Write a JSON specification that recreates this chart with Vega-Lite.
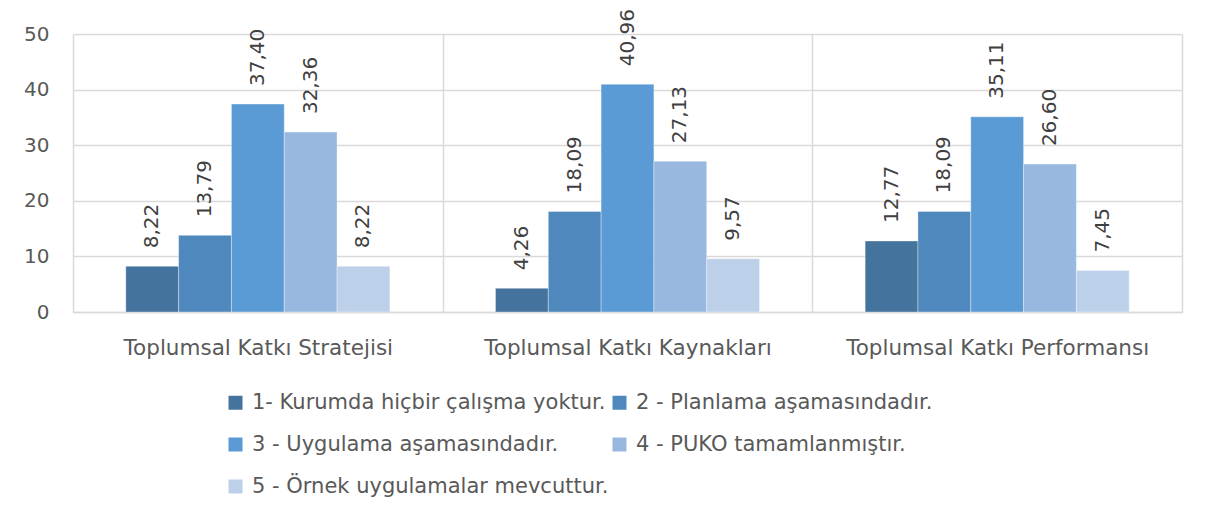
{
  "$schema": "https://vega.github.io/schema/vega-lite/v6.json",
  "width": 1109,
  "height": 278,
  "autosize": {"type": "none"},
  "padding": {"left": 73, "top": 34, "right": 33, "bottom": 215},
  "background": "white",
  "config": {
    "locale": {"number": {"decimal": ",", "thousands": ".", "grouping": [3], "currency": ["", " TL"]}},
    "view": {"stroke": null},
    "font": "DejaVu Sans"
  },
  "data": {
    "values": [
      {"kategori": "Toplumsal Katkı Stratejisi", "seviye": "1- Kurumda hiçbir çalışma yoktur.", "deger": 8.22},
      {"kategori": "Toplumsal Katkı Stratejisi", "seviye": "2 - Planlama aşamasındadır.", "deger": 13.79},
      {"kategori": "Toplumsal Katkı Stratejisi", "seviye": "3 - Uygulama aşamasındadır.", "deger": 37.40},
      {"kategori": "Toplumsal Katkı Stratejisi", "seviye": "4 - PUKO tamamlanmıştır.", "deger": 32.36},
      {"kategori": "Toplumsal Katkı Stratejisi", "seviye": "5 - Örnek uygulamalar mevcuttur.", "deger": 8.22},
      {"kategori": "Toplumsal Katkı Kaynakları", "seviye": "1- Kurumda hiçbir çalışma yoktur.", "deger": 4.26},
      {"kategori": "Toplumsal Katkı Kaynakları", "seviye": "2 - Planlama aşamasındadır.", "deger": 18.09},
      {"kategori": "Toplumsal Katkı Kaynakları", "seviye": "3 - Uygulama aşamasındadır.", "deger": 40.96},
      {"kategori": "Toplumsal Katkı Kaynakları", "seviye": "4 - PUKO tamamlanmıştır.", "deger": 27.13},
      {"kategori": "Toplumsal Katkı Kaynakları", "seviye": "5 - Örnek uygulamalar mevcuttur.", "deger": 9.57},
      {"kategori": "Toplumsal Katkı Performansı", "seviye": "1- Kurumda hiçbir çalışma yoktur.", "deger": 12.77},
      {"kategori": "Toplumsal Katkı Performansı", "seviye": "2 - Planlama aşamasındadır.", "deger": 18.09},
      {"kategori": "Toplumsal Katkı Performansı", "seviye": "3 - Uygulama aşamasındadır.", "deger": 35.11},
      {"kategori": "Toplumsal Katkı Performansı", "seviye": "4 - PUKO tamamlanmıştır.", "deger": 26.60},
      {"kategori": "Toplumsal Katkı Performansı", "seviye": "5 - Örnek uygulamalar mevcuttur.", "deger": 7.45}
    ]
  },
  "encoding": {
    "x": {
      "field": "kategori", "type": "nominal", "sort": null,
      "scale": {"paddingInner": 0, "paddingOuter": 0},
      "axis": {
        "title": null, "labelAngle": 0, "tickBand": "extent", "grid": true,
        "gridColor": "#d9d9d9", "gridWidth": 1.5, "ticks": false,
        "domainColor": "#d9d9d9", "domainWidth": 1.5, "labelLimit": 0,
        "labelFontSize": 21.5, "labelColor": "#595959", "labelPadding": 25
      }
    },
    "xOffset": {
      "field": "seviye", "type": "nominal", "sort": null,
      "scale": {"paddingInner": 0, "paddingOuter": 1}
    },
    "y": {
      "field": "deger", "type": "quantitative",
      "scale": {"domain": [0, 50]},
      "axis": {
        "title": null, "values": [0, 10, 20, 30, 40, 50], "domain": false, "ticks": false,
        "gridColor": "#d9d9d9", "gridWidth": 1.5,
        "labelFontSize": 20, "labelColor": "#595959", "labelPadding": 24
      }
    }
  },
  "layer": [
    {
      "mark": {"type": "bar", "stroke": "#ffffff", "strokeOpacity": 0.35, "strokeWidth": 1},
      "encoding": {
        "color": {
          "field": "seviye", "type": "nominal", "sort": null,
          "scale": {"range": ["#44739d", "#4e88bc", "#5b9bd5", "#99b8df", "#bdd0ea"]},
          "legend": {
            "title": null, "orient": "none", "legendX": 152, "legendY": 358,
            "columns": 2, "gridAlign": "all", "direction": "horizontal",
            "symbolType": "square", "symbolSize": 196, "symbolStrokeWidth": 0,
            "labelFontSize": 21, "labelColor": "#595959", "labelOffset": 6,
            "rowPadding": 20, "columnPadding": 0, "labelLimit": 500
          }
        }
      }
    },
    {
      "mark": {"type": "text", "angle": 270, "align": "left", "baseline": "middle", "dx": 18, "fontSize": 20, "color": "#404040"},
      "encoding": {
        "text": {"field": "deger", "type": "quantitative", "format": ".2f"}
      }
    }
  ]
}
